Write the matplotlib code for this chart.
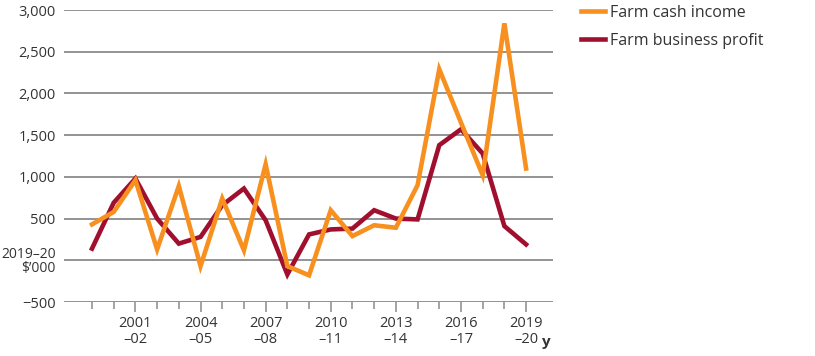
import matplotlib.pyplot as plt
import numpy as np
from matplotlib.transforms import blended_transform_factory

plt.rcParams['font.family'] = ['Open Sans', 'DejaVu Sans']

years = list(range(1999, 2020))
cash_income = [430, 580, 960, 130, 890, -70, 740, 120, 1150, -70, -180, 600,
               290, 420, 390, 900, 2290, 1650, 1020, 2840, 1100]
business_profit = [140, 690, 980, 500, 200, 280, 660, 860, 480, -170, 310, 370,
                   380, 600, 500, 490, 1380, 1570, 1280, 410, 190]

y_ticks = [-500, 0, 500, 1000, 1500, 2000, 2500, 3000]
y_labels = ['\u2212500', "2019\u201320\n$\u2019000", '500', '1,000', '1,500', '2,000', '2,500', '3,000']
x_major = [2001, 2004, 2007, 2010, 2013, 2016, 2019]
x_labels = ['2001\n\u201302', '2004\n\u201305', '2007\n\u201308', '2010\n\u201311',
            '2013\n\u201314', '2016\n\u201317', '2019\n\u201320']

orange = '#f7901e'
red = '#a0102e'
grey = '#8a8a8a'
text_col = '#333333'

fig = plt.figure(figsize=(8.15, 3.56), dpi=100)
ax = fig.add_axes([64 / 815, 54 / 356, (553 - 64) / 815, 292 / 356])

for yv in y_ticks:
  ax.axhline(yv, color=grey, lw=1.3, zorder=1)

ax.plot(years, business_profit, color=red, lw=3.3, label='Farm business profit',
        solid_joinstyle='miter', zorder=3, clip_on=False)
ax.plot(years, cash_income, color=orange, lw=3.3, label='Farm cash income',
        solid_joinstyle='miter', zorder=4, clip_on=False)

ax.set_xlim(1997.71, 2020.24)
ax.set_ylim(-500, 3000)

for s in ax.spines.values():
  s.set_visible(False)

ax.set_yticks(y_ticks)
ax.set_yticklabels(y_labels, fontsize=10.5, color=text_col, linespacing=0.9)
ax.get_yticklabels()[1].set_fontsize(10)
ax.tick_params(axis='y', length=0, pad=6)

ax.set_xticks(x_major)
ax.set_xticklabels(x_labels, fontsize=10.5, color=text_col, linespacing=1.1)
ax.set_xticks(years, minor=True)
ax.tick_params(axis='x', which='major', length=7.5, width=1.1, color=grey, pad=2.5)
ax.tick_params(axis='x', which='minor', length=4.7, width=1.1, color=grey)

tr = blended_transform_factory(ax.transData, ax.transAxes)
ax.text(2019.7, -0.15, 'y', transform=tr, fontsize=11, fontweight='bold',
        color=text_col, ha='left', va='baseline')

handles, labels = ax.get_legend_handles_labels()
leg = ax.legend(handles[::-1], labels[::-1], loc='upper left', bbox_to_anchor=(1.045, 1.04),
                frameon=False, fontsize=11.5, handlelength=1.45, handletextpad=0.35,
                labelspacing=0.75, borderaxespad=0)
for t in leg.get_texts():
  t.set_color(text_col)

fig.savefig('out.png', dpi=100)
